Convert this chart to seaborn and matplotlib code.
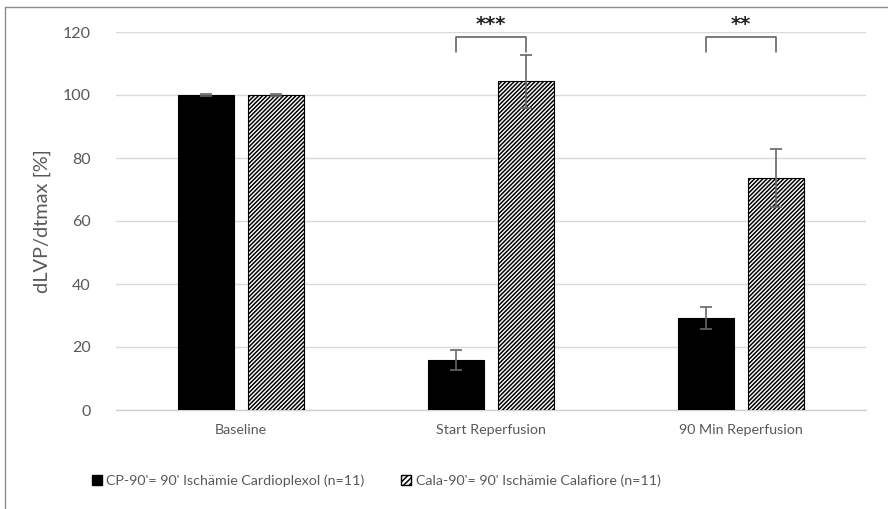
import numpy as np
import pandas as pd
import matplotlib
matplotlib.use("Agg")
import matplotlib.pyplot as plt
import seaborn as sns
from matplotlib.patches import Patch
from matplotlib.lines import Line2D

phases = ["Baseline", "Start Reperfusion", "90 Min Reperfusion"]
groups = ["CP-90'= 90' Ischämie Cardioplexol (n=11)",
          "Cala-90'= 90' Ischämie Calafiore (n=11)"]
cp_values = [100.0, 15.9, 29.2]
cp_errors = [0.3, 3.2, 3.6]
cala_values = [100.0, 104.3, 73.6]
cala_errors = [0.3, 8.5, 9.3]
sig_labels = ["", "***", "**"]
y_ticks = [0, 20, 40, 60, 80, 100, 120]

sns.set_theme(style="white")
plt.rcParams['font.family'] = ['Lato', 'DejaVu Sans']
plt.rcParams['hatch.linewidth'] = 1.1

df = pd.DataFrame({
    "phase": phases * 2,
    "group": [groups[0]] * 3 + [groups[1]] * 3,
    "value": cp_values + cala_values,
})

fig = plt.figure(figsize=(8.88, 5.09), dpi=100)
renderer = fig.canvas.get_renderer()


def fit_size(text, target_px, base=10.0, **kw):
    t = fig.text(0, 0, text, fontsize=base, **kw)
    w = t.get_window_extent(renderer=renderer).width
    t.remove()
    return base * target_px / w


xtick_fs = fit_size("Start Reperfusion", 110)
ytick_fs = fit_size("120", 28)
leg_fs = fit_size(groups[0], 258)
ylab_fs = fit_size("dLVP/dtmax [%]", 144)

ax = fig.add_axes([116/888, 1 - 410/509, 750/888, 378/509])

sns.barplot(data=df, x="phase", y="value", hue="group", order=phases,
            hue_order=groups, palette=["black", "white"], edgecolor="black",
            linewidth=0.8, width=0.56, gap=0.21, errorbar=None, ax=ax,
            legend=False, zorder=3)

patches = [p for p in ax.patches]
cp_patches = patches[:3]
cala_patches = patches[3:6]
for p in cala_patches:
    p.set_hatch("////////")
    p.set_edgecolor("black")

gray = "#595959"
for plist, vals, errs in [(cp_patches, cp_values, cp_errors),
                          (cala_patches, cala_values, cala_errors)]:
    xs = [p.get_x() + p.get_width() / 2 for p in plist]
    ax.errorbar(xs, vals, yerr=errs, fmt="none", ecolor="#666666",
                elinewidth=1.2, capsize=4, capthick=1.2, zorder=4)

# significance brackets
for i, lab in enumerate(sig_labels):
    if not lab:
        continue
    x1 = cp_patches[i].get_x() + cp_patches[i].get_width() / 2
    x2 = cala_patches[i].get_x() + cala_patches[i].get_width() / 2
    ax.plot([x1, x1, x2, x2], [113.7, 118.4, 118.4, 113.7], color="#595959",
            lw=1.1, clip_on=False, zorder=5)
    ax.text((x1 + x2) / 2, 122.4, lab, ha="center", va="center",
            fontsize=14, fontweight="bold", color="#222222", clip_on=False,
            family="DejaVu Sans")

ax.set_ylim(0, 120)
ax.set_yticks(y_ticks)
ax.set_xlim(-0.5, 2.5)
ax.yaxis.grid(True, color="#d9d9d9", lw=1.0)
ax.set_axisbelow(True)
for s in ["top", "right", "left"]:
    ax.spines[s].set_visible(False)
ax.spines["bottom"].set_color("#d0d0d0")
ax.spines["bottom"].set_linewidth(1.0)
ax.tick_params(axis="both", length=0, labelcolor=gray)
ax.tick_params(axis="x", labelsize=xtick_fs, pad=10)
ax.tick_params(axis="y", labelsize=ytick_fs, pad=18)
ax.set_xlabel("")
ax.set_ylabel("dLVP/dtmax [%]", fontsize=ylab_fs, color=gray, labelpad=9)

handles = [Patch(facecolor="black", edgecolor="black"),
           Patch(facecolor="white", edgecolor="black", hatch="//////")]
leg = fig.legend(handles, groups, loc="center left",
                 bbox_to_anchor=(92/888, 1 - 481/509), ncol=2, frameon=False,
                 handlelength=0.7, handleheight=0.7, handletextpad=0.3,
                 columnspacing=2.6, fontsize=leg_fs, borderaxespad=0,
                 borderpad=0)
for t in leg.get_texts():
    t.set_color(gray)

# outer frame (left and top)
fig.add_artist(Line2D([5/888, 5/888], [0, 1 - 7/509], color="#8c8c8c", lw=1.0))
fig.add_artist(Line2D([5/888, 1], [1 - 7/509, 1 - 7/509], color="#8c8c8c", lw=1.0))

fig.savefig("out.png", dpi=100)
